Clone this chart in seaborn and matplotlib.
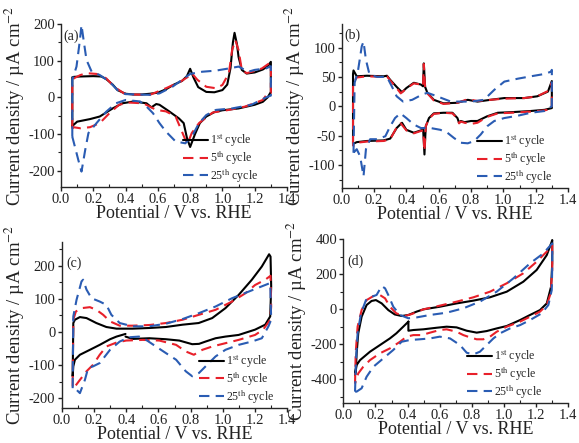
import numpy as np
import pandas as pd
import matplotlib
matplotlib.use('Agg')
import matplotlib.pyplot as plt
from matplotlib.ticker import MultipleLocator, FormatStrFormatter
import seaborn as sns

# ---- data (potential / V vs RHE, current density / uA cm-2) ----
# panel (a)
a1_v = [0.07, 0.07, 0.08, 0.12, 0.20, 0.25, 0.28, 0.32, 0.35, 0.40, 0.45, 0.50, 0.55, 0.60, 0.65, 0.70,
        0.75, 0.78, 0.80, 0.82, 0.85, 0.90, 0.95, 1.00, 1.03, 1.05, 1.065, 1.075, 1.09, 1.10, 1.12, 1.15,
        1.20, 1.25, 1.28, 1.30, 1.30, 1.28, 1.25, 1.20, 1.10, 1.00, 0.95, 0.90, 0.86, 0.83, 0.80, 0.78,
        0.76, 0.73, 0.67, 0.61, 0.59, 0.56, 0.53, 0.45, 0.38, 0.32, 0.24, 0.18, 0.10, 0.07]
a1_j = [-78, 55, 56, 57, 58, 57, 50, 35, 20, 10, 8, 8, 10, 13, 22, 35,
        45, 58, 78, 55, 28, 15, 14, 20, 35, 80, 150, 176, 145, 110, 75, 65,
        68, 76, 85, 97, 15, 0, -12, -20, -30, -35, -40, -52, -70, -100, -135, -110,
        -70, -57, -38, -20, -18, -27, -16, -11, -16, -30, -52, -59, -66, -78]

a5_v = [0.07, 0.07, 0.08, 0.12, 0.16, 0.22, 0.28, 0.33, 0.39, 0.45, 0.55, 0.65, 0.74, 0.79, 0.81, 0.845,
        0.90, 0.96, 1.00, 1.04, 1.06, 1.08, 1.10, 1.12, 1.15, 1.20, 1.245, 1.29, 1.30, 1.30, 1.28, 1.25,
        1.14, 1.04, 0.94, 0.855, 0.81, 0.785, 0.77, 0.71, 0.65, 0.59, 0.51, 0.42, 0.36, 0.30, 0.24, 0.18,
        0.12, 0.075, 0.07]
a5_j = [-85, 45, 52, 61, 66, 64, 52, 29, 11, 8, 7, 25, 43, 57, 66, 48,
        29, 25, 34, 66, 129, 156, 129, 75, 66, 72, 79, 93, 96, 12, 11, -7,
        -25, -34, -41, -70, -97, -125, -115, -52, -38, -34, -16, -14, -20, -43, -70, -81,
        -84, -81, -85]

a25_v = [0.07, 0.07, 0.096, 0.117, 0.127, 0.14, 0.158, 0.19, 0.24, 0.30, 0.35, 0.40, 0.55, 0.61, 0.69, 0.75,
         0.80, 0.875, 0.96, 1.04, 1.10, 1.16, 1.20, 1.27, 1.30, 1.30, 1.27, 1.18, 1.06, 0.96, 0.90, 0.855,
         0.81, 0.77, 0.71, 0.65, 0.61, 0.57, 0.53, 0.49, 0.40, 0.34, 0.28, 0.22, 0.17, 0.15, 0.127, 0.107,
         0.086, 0.07]
a25_j = [-107, 48, 84, 156, 197, 156, 102, 70, 61, 43, 20, 9, 7, 11, 29, 48,
         64, 70, 73, 79, 84, 70, 75, 79, 85, 5, 0, -20, -30, -34, -48, -70,
         -107, -125, -120, -93, -70, -43, -25, -11, -7, -16, -39, -70, -97, -143, -202, -170,
         -134, -107]

# panel (b)
b1_v = [0.07, 0.07, 0.073, 0.093, 0.156, 0.26, 0.28, 0.30, 0.34, 0.373, 0.40, 0.446, 0.49, 0.503, 0.508, 0.516,
        0.53, 0.57, 0.63, 0.716, 0.78, 0.84, 0.92, 1.006, 1.13, 1.21, 1.276, 1.30, 1.30, 1.255, 1.17, 1.05,
        0.965, 0.90, 0.84, 0.80, 0.76, 0.737, 0.726, 0.716, 0.685, 0.63, 0.57, 0.54, 0.52, 0.512, 0.504, 0.49,
        0.446, 0.40, 0.373, 0.34, 0.30, 0.26, 0.156, 0.093, 0.07]
b1_j = [-64, 55, 61, 51, 52, 51, 52, 45, 33, 24, 31, 40, 37, 34, 73, 33,
        23, 11, 5, 6, 11, 8, 11, 14, 14, 17, 25, 43, -3, -6, -8, -10,
        -11, -17, -25, -25, -27, -25, -28, -20, -11, -11, -12, -20, -34, -82, -40, -41,
        -45, -40, -28, -37, -55, -58, -59, -61, -64]

b5_v = [0.07, 0.07, 0.077, 0.093, 0.156, 0.26, 0.28, 0.30, 0.34, 0.365, 0.40, 0.446, 0.49, 0.503, 0.508, 0.516,
        0.53, 0.57, 0.63, 0.716, 0.78, 0.84, 0.92, 1.006, 1.13, 1.21, 1.276, 1.30, 1.30, 1.255, 1.17, 1.05,
        0.965, 0.90, 0.84, 0.80, 0.76, 0.737, 0.726, 0.716, 0.685, 0.63, 0.57, 0.54, 0.52, 0.512, 0.504, 0.49,
        0.446, 0.40, 0.365, 0.34, 0.30, 0.26, 0.156, 0.093, 0.07]
b5_j = [-68, 35, 42, 49, 51, 50, 51, 44, 31, 22, 30, 39, 37, 34, 72, 32,
        22, 10, 4, 6, 12, 9, 11, 13, 14, 17, 26, 40, -4, -7, -9, -11,
        -12, -18, -28, -30, -28, -26, -29, -21, -12, -11, -13, -21, -34, -76, -41, -42,
        -46, -41, -29, -36, -56, -59, -60, -62, -68]

b25_v = [0.073, 0.08, 0.10, 0.124, 0.135, 0.15, 0.172, 0.218, 0.28, 0.31, 0.34, 0.38, 0.436, 0.498, 0.53, 0.59,
         0.675, 0.80, 0.88, 0.944, 1.006, 1.09, 1.17, 1.255, 1.296, 1.30, 1.30, 1.255, 1.17, 1.09, 1.006, 0.944,
         0.90, 0.86, 0.82, 0.78, 0.737, 0.695, 0.654, 0.61, 0.55, 0.49, 0.446, 0.40, 0.363, 0.33, 0.30, 0.27,
         0.218, 0.176, 0.15, 0.135, 0.114, 0.093, 0.073]
b25_j = [-79, 40, 59, 102, 110, 79, 54, 50, 50, 34, 17, 8, 11, 20, 23, 17,
         8, 8, 11, 28, 42, 47, 51, 55, 59, 62, 0, -8, -11, -16, -20, -25,
         -34, -48, -59, -63, -62, -54, -45, -40, -37, -37, -31, -20, -12, -20, -34, -51,
         -56, -56, -73, -119, -85, -73, -79]

# panel (c)
c1_v = [0.396, 0.34, 0.30, 0.236, 0.175, 0.113, 0.082, 0.072, 0.068, 0.072, 0.082, 0.113, 0.154, 0.215, 0.277, 0.34,
        0.44, 0.544, 0.647, 0.75, 0.85, 0.934, 1.016, 1.098, 1.18, 1.242, 1.287, 1.296, 1.30, 1.294, 1.263, 1.20,
        1.098, 1.016, 0.955, 0.893, 0.852, 0.81, 0.73, 0.647, 0.544, 0.44, 0.396]
c1_j = [-6, -14, -22, -39, -54, -69, -84, -104, -134, 27, 37, 45, 42, 27, 15, 10,
        10, 12, 15, 22, 27, 42, 72, 112, 158, 198, 235, 228, 138, 47, 22, 7,
        -9, -14, -19, -29, -36, -37, -26, -22, -19, -21, -14]

c5_v = [0.068, 0.072, 0.088, 0.123, 0.175, 0.215, 0.257, 0.30, 0.36, 0.44, 0.544, 0.647, 0.75, 0.852, 0.955, 1.057,
        1.14, 1.20, 1.263, 1.296, 1.30, 1.294, 1.25, 1.20, 1.098, 1.016, 0.934, 0.873, 0.82, 0.77, 0.71, 0.606,
        0.503, 0.40, 0.34, 0.277, 0.236, 0.195, 0.154, 0.113, 0.082, 0.068]
c5_j = [-165, 37, 62, 72, 75, 67, 52, 32, 19, 19, 21, 27, 37, 52, 67, 92,
        117, 142, 158, 170, 77, 37, 7, -9, -24, -34, -44, -54, -69, -59, -39, -26,
        -24, -26, -32, -44, -69, -99, -119, -145, -165, -170]

c25_v = [0.068, 0.072, 0.092, 0.123, 0.133, 0.154, 0.185, 0.236, 0.277, 0.308, 0.36, 0.44, 0.544, 0.647, 0.75, 0.852,
         0.955, 1.057, 1.16, 1.242, 1.294, 1.30, 1.283, 1.242, 1.18, 1.098, 1.016, 0.955, 0.893, 0.852, 0.81, 0.77,
         0.71, 0.647, 0.585, 0.524, 0.48, 0.42, 0.36, 0.30, 0.236, 0.195, 0.164, 0.144, 0.113, 0.092, 0.072]
c25_j = [-170, 47, 97, 153, 158, 128, 102, 92, 82, 52, 27, 17, 17, 25, 39, 57,
         77, 102, 122, 138, 148, 37, 17, -19, -29, -39, -54, -74, -104, -124, -134, -119,
         -84, -64, -44, -24, -14, -16, -29, -54, -94, -104, -109, -145, -185, -175, -165]

# panel (d)
d1_v = [0.405, 0.373, 0.33, 0.29, 0.228, 0.166, 0.104, 0.083, 0.073, 0.079, 0.083, 0.093, 0.114, 0.145, 0.176, 0.203,
        0.239, 0.28, 0.32, 0.363, 0.405, 0.456, 0.498, 0.60, 0.705, 0.81, 0.913, 1.017, 1.12, 1.203, 1.266, 1.297,
        1.30, 1.30, 1.293, 1.266, 1.224, 1.162, 1.10, 1.017, 0.954, 0.892, 0.83, 0.768, 0.705, 0.643, 0.581, 0.498,
        0.436, 0.405, 0.405]
d1_j = [-70, -99, -137, -166, -204, -242, -290, -318, -375, -328, -251, -137, -42, 25, 48, 53,
        34, -4, -29, -38, -32, -13, 0, 15, 34, 50, 69, 101, 158, 225, 310, 387,
        396, 263, 130, 34, -4, -32, -61, -95, -109, -124, -133, -122, -103, -99, -105, -114,
        -118, -122, -70]

d5_v = [0.073, 0.077, 0.089, 0.114, 0.145, 0.187, 0.228, 0.26, 0.29, 0.33, 0.384, 0.425, 0.498, 0.60, 0.705, 0.81,
        0.913, 1.017, 1.12, 1.203, 1.266, 1.30, 1.30, 1.29, 1.266, 1.224, 1.162, 1.10, 1.017, 0.954, 0.913, 0.871,
        0.83, 0.788, 0.747, 0.705, 0.643, 0.60, 0.54, 0.488, 0.436, 0.394, 0.353, 0.29, 0.228, 0.166, 0.124, 0.093,
        0.079, 0.073]
d5_j = [-423, -251, -99, -4, 53, 76, 82, 63, 15, -23, -38, -27, 0, 21, 44, 69,
        101, 149, 206, 272, 330, 368, 225, 91, 25, -13, -42, -70, -99, -128, -156, -171,
        -171, -160, -147, -128, -114, -118, -133, -147, -147, -156, -185, -223, -251, -290, -328, -366,
        -404, -423]

d25_v = [0.073, 0.079, 0.089, 0.11, 0.141, 0.176, 0.207, 0.239, 0.26, 0.28, 0.311, 0.353, 0.405, 0.456, 0.54, 0.643,
         0.747, 0.85, 0.954, 1.058, 1.162, 1.245, 1.30, 1.30, 1.297, 1.276, 1.234, 1.162, 1.10, 1.037, 0.975, 0.934,
         0.892, 0.85, 0.81, 0.768, 0.726, 0.664, 0.60, 0.54, 0.477, 0.415, 0.363, 0.311, 0.249, 0.187, 0.145, 0.114,
         0.083, 0.073]
d25_j = [-470, -290, -137, -23, 53, 72, 82, 133, 120, 82, 15, -32, -51, -46, -32, -19,
         6, 44, 101, 177, 263, 320, 377, 244, 110, 25, -23, -61, -90, -109, -137, -166,
         -204, -242, -257, -248, -204, -166, -156, -166, -171, -175, -185, -232, -280, -328, -385, -451,
         -470, -470]

cycle_labels = ['1$^{\\rm st}$ cycle', '5$^{\\rm th}$ cycle', '25$^{\\rm th}$ cycle']
panel_names = ['(a)', '(b)', '(c)', '(d)']

# ---- style ----
sns.set_theme(style='ticks')
plt.rcParams['font.family'] = ['Liberation Serif', 'DejaVu Serif']
plt.rcParams['mathtext.fontset'] = 'stix'
plt.rcParams['axes.unicode_minus'] = False
plt.rcParams['axes.linewidth'] = 1.0

colors = ['black', '#e8202a', '#2a5cb3']
styles = ['-', (0, (5, 3)), (0, (5, 3))]

W, H = 579, 443


def px_box(left, right, top, bottom):
    # axes box from pixel edges of the reference
    return [left / W, 1 - bottom / H, (right - left) / W, (bottom - top) / H]


panels = [
    dict(curves=[(a1_v, a1_j), (a5_v, a5_j), (a25_v, a25_j)], ylim=(-244, 200), ymaj=100, ymin=50,
         pos=px_box(61, 287, 24, 187), leg=(0.54, 0.015), tag=(0.01, 0.90)),
    dict(curves=[(b1_v, b1_j), (b5_v, b5_j), (b25_v, b25_j)], ylim=(-139, 140), ymaj=50, ymin=25,
         pos=px_box(341.7, 568, 24, 188), leg=(0.60, 0.015), tag=(0.01, 0.91)),
    dict(curves=[(c1_v, c1_j), (c5_v, c5_j), (c25_v, c25_j)], ylim=(-230, 273), ymaj=100, ymin=50,
         pos=px_box(61.7, 287.3, 241.7, 408), leg=(0.61, 0.015), tag=(0.02, 0.85)),
    dict(curves=[(d1_v, d1_j), (d5_v, d5_j), (d25_v, d25_j)], ylim=(-535, 402), ymaj=200, ymin=100,
         pos=px_box(343.3, 568.3, 239, 403), leg=(0.55, 0.015), tag=(0.02, 0.84)),
]

fig = plt.figure(figsize=(W / 100, H / 100), dpi=100)

for name, p in zip(panel_names, panels):
    ax = fig.add_axes(p['pos'])
    for (v, j), lab, col, ls in zip(p['curves'], cycle_labels, colors, styles):
        df = pd.DataFrame({'v': v, 'j': j})
        sns.lineplot(data=df, x='v', y='j', sort=False, estimator=None, color=col,
                     linestyle=ls, linewidth=1.5, label=lab, ax=ax)
    ax.set_xlim(0.0, 1.4)
    ax.set_ylim(*p['ylim'])
    ax.xaxis.set_major_locator(MultipleLocator(0.2))
    ax.xaxis.set_minor_locator(MultipleLocator(0.1))
    ax.yaxis.set_major_locator(MultipleLocator(p['ymaj']))
    ax.yaxis.set_minor_locator(MultipleLocator(p['ymin']))
    ax.xaxis.set_major_formatter(FormatStrFormatter('%.1f'))
    ax.tick_params(which='major', direction='out', length=3, width=1.0, labelsize=10.5,
                   pad=1.5, color='#222222', labelcolor='#222222')
    ax.tick_params(which='minor', length=2, width=0.8, color='#222222')
    ax.tick_params(axis='x', which='minor', direction='in')
    ax.tick_params(axis='y', which='minor', direction='out')
    sns.despine(ax=ax)
    ax.set_xlabel('Potential / V vs. RHE', fontsize=13, labelpad=-1, color='#222222')
    ax.set_ylabel('Current density / \u00b5A cm$^{-2}$', fontsize=13.5, labelpad=1, color='#222222')
    ax.text(p['tag'][0], p['tag'][1], name, transform=ax.transAxes, fontsize=10, color='#222222')
    ax.legend(loc='lower left', bbox_to_anchor=p['leg'], frameon=False, fontsize=8.5,
              handlelength=2.1, labelspacing=0.05, handletextpad=0.15, borderaxespad=0, borderpad=0)

fig.savefig('out.png', dpi=100)
